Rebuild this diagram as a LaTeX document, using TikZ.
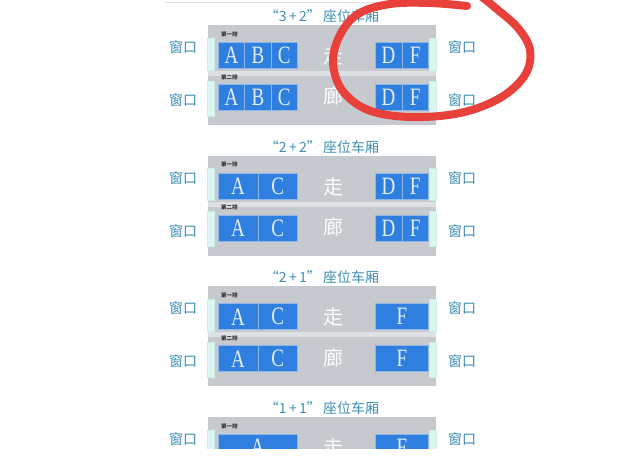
\documentclass[tikz,border=0pt]{standalone}
\usepackage{fontspec}
\setmainfont{Liberation Serif}
\newfontfamily\cjk{Noto Sans CJK SC}
\definecolor{titlec}{HTML}{3F8FB2}
\definecolor{winc}{HTML}{3A8DB4}
\definecolor{grayc}{HTML}{C6CACE}
\definecolor{stripc}{HTML}{DEE1E3}
\definecolor{seatc}{HTML}{2F7FE0}
\definecolor{seatline}{HTML}{8DB6EA}
\definecolor{lettc}{HTML}{E4EEFA}
\definecolor{mintc}{HTML}{DDF6F1}
\definecolor{mintline}{HTML}{C8F0E8}
\definecolor{redc}{HTML}{E8403A}
\tikzset{
  titletext/.style={text=titlec, font=\cjk\fontsize{14}{14}\selectfont, inner sep=0},
  wintext/.style={text=winc, font=\cjk\fontsize{14}{14}\selectfont, inner sep=0},
  aisletext/.style={text=white!97!grayc, font=\cjk\fontsize{20}{20}\selectfont, inner sep=0},
  rowlab/.style={text=black!80, font=\cjk\bfseries\fontsize{5.5}{6}\selectfont, inner sep=0, anchor=west},
  seatcell/.style={fill=seatc, draw=seatline, line width=0.7pt, inner sep=0, anchor=north west,
    text=lettc, font=\fontsize{25}{25}\selectfont},
  carbox/.style={fill=grayc, draw=none},
  winstrip/.style={fill=mintc, draw=mintline, line width=0.5pt}
}
\newcommand{\seatcellat}[5]{% name, x, y, w, letter
  \node[seatcell, minimum width=#4pt, minimum height=26pt] (#1) at (#2,#3) {\scalebox{0.76}[1]{#5}};}
\newcommand{\cartitle}[1]{“#1”\hspace{0.15em}座位车厢}
\newcommand{\carpanel}[3]{% id, T, title
  \node[titletext] (t#1) at (322,#2-9) {\cartitle{#3}};
  \fill[carbox] (208,#2) rectangle (436,#2+100);
  \fill[stripc] (208,#2+46) rectangle (436,#2+51);
  \fill[winstrip] (207,#2+13) rectangle (214,#2+45);
  \fill[winstrip] (207,#2+56) rectangle (214,#2+91);
  \fill[winstrip] (429,#2+13) rectangle (436,#2+45);
  \fill[winstrip] (429,#2+56) rectangle (436,#2+91);
  \node[rowlab] (ra#1) at (221,#2+9) {第一排};
  \node[rowlab] (rb#1) at (221,#2+52) {第二排};
  \node[wintext] (wla#1) at (183,#2+22) {窗口};
  \node[wintext] (wlb#1) at (183,#2+75) {窗口};
  \node[wintext] (wra#1) at (462,#2+22) {窗口};
  \node[wintext] (wrb#1) at (462,#2+75) {窗口};
  \node[aisletext] (za#1) at (333,#2+31) {走};
  \node[aisletext] (zb#1) at (333,#2+71) {廊};
}
\begin{document}
\begin{tikzpicture}[x=1pt,y=-1pt]
\useasboundingbox (0,0) rectangle (628,467);
\fill[white] (0,0) rectangle (628,467);
\draw[black!12, line width=0.8pt] (165,2.5) -- (470,2.5);

% panel 1: 3+2
\carpanel{1}{25}{3\,+\,2}
\foreach \r/\yy in {a/42,b/84}{
  \seatcellat{p1\r A}{218}{\yy}{26.33}{A}
  \seatcellat{p1\r B}{244.33}{\yy}{26.33}{B}
  \seatcellat{p1\r C}{270.67}{\yy}{26.33}{C}
  \seatcellat{p1\r D}{375}{\yy}{26.5}{D}
  \seatcellat{p1\r F}{401.5}{\yy}{26.5}{F}
}

% panel 2: 2+2
\carpanel{2}{155.7}{2\,+\,2}
\foreach \r/\yy in {a/172.7,b/214.7}{
  \seatcellat{p2\r A}{218}{\yy}{39.5}{A}
  \seatcellat{p2\r C}{257.5}{\yy}{39.5}{C}
  \seatcellat{p2\r D}{375}{\yy}{26.5}{D}
  \seatcellat{p2\r F}{401.5}{\yy}{26.5}{F}
}

% panel 3: 2+1
\carpanel{3}{286.4}{2\,+\,1}
\foreach \r/\yy in {a/303.4,b/345.4}{
  \seatcellat{p3\r A}{218}{\yy}{39.5}{A}
  \seatcellat{p3\r C}{257.5}{\yy}{39.5}{C}
  \seatcellat{p3\r F}{375}{\yy}{53}{F}
}

% panel 4: 1+1 (cut off)
\begin{scope}
\clip (0,0) rectangle (628,448);
\node[titletext] (t4) at (322,408) {\cartitle{1\,+\,1}};
\fill[carbox] (208,417) rectangle (436,517);
\fill[winstrip] (207,430) rectangle (214,462);
\fill[winstrip] (429,430) rectangle (436,462);
\node[rowlab] (ra4) at (221,426) {第一排};
\node[wintext] (wla4) at (183,439) {窗口};
\node[wintext] (wra4) at (462,439) {窗口};
\node[aisletext] (za4) at (333,448) {走};
\seatcellat{p4aA}{218}{434}{79}{A}
\seatcellat{p4aF}{375}{434}{53}{F}
\end{scope}

% red hand-drawn circle
\draw[redc, line width=8pt, line cap=round, line join=round]
  plot[smooth, tension=0.6] coordinates {(467,6) (430,3) (390,4) (358,14) (340,35) (333,62) (342,90) (368,110) (410,117) (460,113) (500,98) (525,75) (530,50) (518,28) (498,10) (482,-3)};
\end{tikzpicture}
\end{document}
